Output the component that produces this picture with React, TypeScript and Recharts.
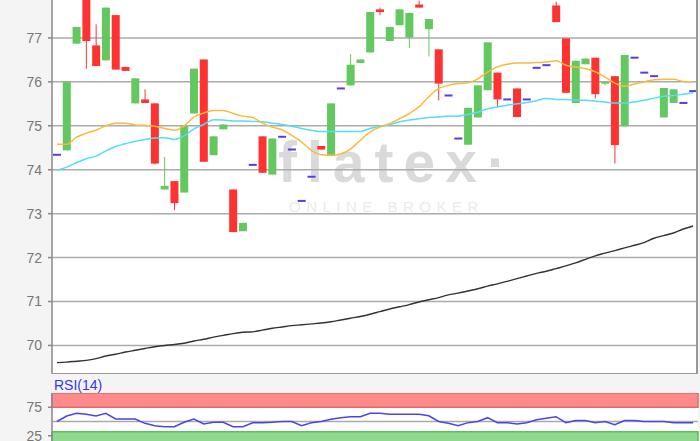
import React from "react";
import {
  ComposedChart,
  LineChart,
  Bar,
  Line,
  XAxis,
  YAxis,
  CartesianGrid,
  ReferenceArea,
  ReferenceLine,
} from "recharts";

const GREEN = "#63c85f";
const RED = "#ff3232";
const DOJI = "#5a3ddb";

const open = [
  74.34, 74.44, 76.87, 77.98, 76.83, 76.49, 77.52, 76.34, 75.51, 75.6,
  75.51, 73.55, 73.74, 73.48, 75.28, 76.51, 74.33, 74.92, 73.55, 72.6,
  74.11, 74.76, 73.89, 74.75, 74.46, 73.29, 73.84, 74.54, 74.31, 75.85,
  75.92, 76.43, 76.67, 77.65, 76.93, 77.29, 77.01, 77.76, 77.2, 76.74,
  75.69, 74.71, 74.57, 75.19, 75.81, 76.21, 75.6, 75.85, 75.6, 76.32,
  76.38, 77.74, 76.99, 75.52, 76.4, 76.55, 75.96, 76.13, 74.99, 76.55,
  76.21, 76.13, 75.19, 75.52, 75.52, 75.79,
];
const close = [
  74.34, 76.0, 77.25, 76.93, 76.36, 77.69, 76.28, 76.25, 76.08, 75.52,
  74.14, 73.63, 73.24, 74.99, 76.3, 74.18, 74.76, 75.03, 72.58, 72.79,
  74.11, 73.93, 74.71, 74.75, 74.46, 73.29, 73.84, 74.46, 75.51, 75.85,
  76.39, 76.51, 77.59, 77.59, 77.25, 77.65, 77.57, 77.69, 77.43, 75.96,
  75.69, 74.71, 75.41, 75.92, 76.9, 75.6, 75.6, 75.2, 75.6, 76.32,
  76.38, 77.36, 75.75, 76.48, 76.53, 75.72, 76.0, 74.56, 76.61, 76.55,
  76.21, 76.13, 75.86, 75.83, 75.52, 75.79,
];
const high = [
  74.34, 76.0, 77.25, 77.98, 77.31, 77.69, 77.52, 76.34, 76.08, 75.83,
  75.51, 74.29, 73.74, 74.99, 76.3, 76.51, 74.76, 75.03, 73.55, 72.79,
  74.11, 74.76, 74.71, 74.75, 74.46, 73.29, 73.84, 74.54, 75.51, 75.85,
  76.63, 76.51, 77.59, 77.69, 77.25, 77.65, 77.57, 77.85, 77.43, 76.74,
  75.69, 74.71, 75.41, 75.92, 76.9, 76.21, 75.6, 75.85, 75.6, 76.32,
  76.38, 77.82, 76.99, 76.48, 76.53, 76.55, 76.0, 76.13, 76.61, 76.55,
  76.21, 76.13, 75.86, 75.83, 75.52, 75.79,
];
const low = [
  74.34, 74.44, 76.87, 76.3, 76.36, 76.49, 76.28, 76.25, 75.51, 75.52,
  74.12, 73.55, 73.08, 73.48, 75.28, 74.18, 74.33, 74.92, 72.58, 72.6,
  74.11, 73.93, 73.89, 74.75, 74.46, 73.29, 73.84, 74.46, 74.31, 75.85,
  75.92, 76.43, 76.67, 77.52, 76.93, 77.29, 76.77, 77.69, 76.58, 75.58,
  75.69, 74.71, 74.57, 75.19, 75.81, 75.44, 75.6, 75.2, 75.6, 76.32,
  76.38, 77.36, 75.75, 75.52, 76.4, 75.62, 75.92, 74.14, 74.99, 76.55,
  76.21, 76.13, 75.19, 75.52, 75.52, 75.79,
];

// moving averages
const maFast = [
  74.58, 74.58, 74.74, 74.83, 74.9, 75.0, 75.06, 75.06, 75.02, 75.01,
  74.99, 74.94, 74.9, 75.0, 75.2, 75.29, 75.35, 75.35, 75.28, 75.22,
  75.19, 75.06, 74.97, 74.91, 74.78, 74.63, 74.44, 74.34, 74.33, 74.36,
  74.47, 74.67, 74.86, 74.97, 75.05, 75.16, 75.28, 75.43, 75.66, 75.85,
  75.92, 75.96, 75.98, 76.07, 76.22, 76.34, 76.4, 76.43, 76.43, 76.44,
  76.45, 76.48, 76.38, 76.34, 76.3, 76.23, 76.11, 75.97, 75.9, 75.95,
  76.0, 76.05, 76.06, 76.06, 76.01, 76.0,
];
const maMid = [
  73.99, 74.06, 74.16, 74.25, 74.31, 74.43, 74.53, 74.59, 74.65, 74.69,
  74.72, 74.73, 74.69, 74.77, 74.93, 75.03, 75.14, 75.13, 75.11, 75.11,
  75.1, 75.09, 75.06, 75.03, 74.99, 74.94, 74.9, 74.87, 74.87, 74.87,
  74.87, 74.87, 74.94, 74.99, 75.03, 75.09, 75.13, 75.16, 75.19, 75.2,
  75.22, 75.22, 75.26, 75.31, 75.39, 75.43, 75.47, 75.5, 75.53, 75.57,
  75.62, 75.6, 75.6, 75.58, 75.58, 75.56, 75.54, 75.52, 75.52, 75.54,
  75.58, 75.63, 75.67, 75.69, 75.72, 75.75,
];
const maSlow = [
  69.61, 69.62, 69.64, 69.66, 69.7, 69.76, 69.8, 69.85, 69.89, 69.93,
  69.97, 70.0, 70.02, 70.05, 70.1, 70.14, 70.19, 70.23, 70.27, 70.3,
  70.31, 70.35, 70.39, 70.42, 70.45, 70.47, 70.49, 70.51, 70.54, 70.58,
  70.62, 70.66, 70.71, 70.77, 70.83, 70.88, 70.93, 70.99, 71.04, 71.09,
  71.15, 71.19, 71.24, 71.29, 71.35, 71.4, 71.46, 71.52, 71.58, 71.64,
  71.69, 71.75, 71.81, 71.88, 71.96, 72.04, 72.1, 72.16, 72.22, 72.28,
  72.34, 72.44, 72.5, 72.56, 72.65, 72.72,
];
const rsi = [
  50, 59.6, 64.4, 62.6, 59.6, 64.4, 54.4, 54.4, 54.4, 46.8,
  42.6, 40.9, 40.9, 48.6, 54.4, 45.6, 48.6, 48.6, 40.9, 40.9,
  47.7, 47.7, 48.6, 50, 50, 42.6, 47.7, 50, 54, 56.7,
  58.4, 58.4, 64.4, 64.4, 62.6, 62.6, 62.6, 62.6, 60, 50,
  46.8, 42.6, 48, 50, 56.7, 48, 48, 45.6, 48, 52.9,
  55.8, 58.4, 48, 51.7, 51.7, 48, 50, 44.4, 51.7, 51.7,
  50, 50, 50, 48, 48, 48,
];

const priceTicks = [70, 71, 72, 73, 74, 75, 76, 77, 78];
const rsiTicks = [25, 75];

const rows = open.map((o, i) => ({
  i,
  open: o,
  close: close[i],
  high: high[i],
  low: low[i],
  range: [low[i], high[i]],
  maFast: maFast[i],
  maMid: maMid[i],
  maSlow: maSlow[i],
  rsi: rsi[i],
}));

const Candle = (props: any) => {
  const { x, y, width, height, payload } = props;
  const cx = x + width / 2;
  const top = Math.min(y, y + height);
  const h = Math.abs(height);
  const { open: o, close: c, high: hi, low: lo } = payload;
  if (hi === lo) {
    return <rect x={cx - 4} y={top - 1} width={8} height={2} fill={DOJI} />;
  }
  const ppu = h / (hi - lo);
  const color = c >= o ? GREEN : RED;
  const bodyTop = top + (hi - Math.max(o, c)) * ppu;
  const bodyH = Math.max(Math.abs(o - c) * ppu, 1.5);
  return (
    <g>
      <line x1={cx} x2={cx} y1={top} y2={top + h} stroke={color} strokeWidth={1} />
      <rect x={cx - 4} y={bodyTop} width={8} height={bodyH} fill={color} />
    </g>
  );
};

const tickStyle = { fill: "#777", fontSize: 14, fontFamily: "Arial" };

export default function App() {
  return (
    <div
      style={{
        position: "absolute",
        left: 0,
        top: 0,
        width: 700,
        height: 441,
        overflow: "hidden",
        background: "#f4f4f4",
        fontFamily: "Arial",
      }}
    >
      {/* plot background + watermark, behind the svg */}
      <div style={{ position: "absolute", left: 52, top: -6, width: 646, height: 380, background: "#fff" }} />
      <div
        style={{
          position: "absolute",
          left: 278,
          top: 134,
          fontSize: 57,
          lineHeight: "57px",
          fontWeight: 700,
          letterSpacing: 10,
          color: "#dadada",
          whiteSpace: "nowrap",
        }}
      >
        flatex·
      </div>
      <div
        style={{
          position: "absolute",
          left: 289,
          top: 199,
          fontSize: 15,
          lineHeight: "15px",
          letterSpacing: 5.5,
          color: "#ebebeb",
          whiteSpace: "nowrap",
        }}
      >
        ONLINE BROKER
      </div>

      <div style={{ position: "absolute", left: 0, top: -16 }}>
        <ComposedChart width={700} height={390} data={rows} margin={{ top: 10, right: 2, bottom: 0, left: 0 }}>
          <CartesianGrid vertical={false} stroke="#ababab" strokeWidth={1.5} />
          <XAxis dataKey="i" hide />
          <YAxis
            domain={[69.35, 78]}
            ticks={priceTicks}
            interval={0}
            allowDataOverflow
            width={52}
            tickSize={4}
            tickMargin={6}
            tick={tickStyle}
            stroke="#888"
            strokeWidth={1.5}
          />
          <Line dataKey="maSlow" type="monotone" stroke="#333" strokeWidth={1.4} dot={false} isAnimationActive={false} />
          <Line dataKey="maMid" type="monotone" stroke="#55dcf6" strokeWidth={1.5} dot={false} isAnimationActive={false} />
          <Line dataKey="maFast" type="monotone" stroke="#f8bb3c" strokeWidth={1.5} dot={false} isAnimationActive={false} />
          <Bar dataKey="range" barSize={8} shape={Candle} isAnimationActive={false} />
        </ComposedChart>
      </div>

      {/* plot frame: right and bottom */}
      <div
        style={{
          position: "absolute",
          left: 52,
          top: -6,
          width: 644,
          height: 379,
          borderRight: "2px solid #999",
          borderBottom: "1.5px solid #999",
          pointerEvents: "none",
        }}
      />

      <div style={{ position: "absolute", left: 54, top: 377, fontSize: 14, lineHeight: "16px", color: "#3535f5" }}>
        RSI(14)
      </div>

      <div style={{ position: "absolute", left: 0, top: 393 }}>
        <LineChart width={700} height={57} data={rows} margin={{ top: 0, right: 2, bottom: 0, left: 0 }}>
          <CartesianGrid horizontal={false} vertical={false} fill="#fff" fillOpacity={1} />
          <XAxis dataKey="i" hide scale="band" />
          <YAxis
            domain={[0, 100]}
            ticks={rsiTicks}
            interval={0}
            width={52}
            tickSize={4}
            tickMargin={6}
            tick={tickStyle}
            stroke="#888"
            strokeWidth={1.5}
          />
          <ReferenceArea y1={75} y2={100} fill="#ff8a8a" fillOpacity={1} stroke="#e26a6a" strokeWidth={1.5} />
          <ReferenceArea y1={0} y2={32} fill="#8fd98f" fillOpacity={1} stroke="#5fbf5f" strokeWidth={1.5} />
          <ReferenceLine y={50} stroke="#aaa" strokeWidth={1.5} />
          <Line dataKey="rsi" type="linear" stroke="#4646ee" strokeWidth={1.5} dot={false} isAnimationActive={false} />
        </LineChart>
      </div>
    </div>
  );
}
